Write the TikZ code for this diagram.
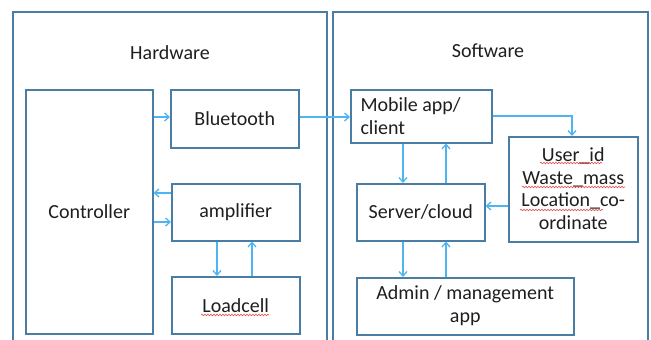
\documentclass[tikz,border=0pt]{standalone}
\usepackage{fontspec}
\setmainfont{Carlito}
\usetikzlibrary{arrows.meta,decorations.pathmorphing}
\definecolor{boxline}{HTML}{4A7DA4}
\definecolor{arrowc}{HTML}{4DB6F2}
\definecolor{txt}{HTML}{1E1E1E}
\definecolor{spell}{HTML}{E05050}
\tikzset{
  every node/.style={font=\fontsize{20}{22.5}\selectfont, text=txt},
  blk/.style={draw=boxline, line width=1.5pt, inner sep=0pt, anchor=north west},
  frame/.style={draw=boxline, line width=1.5pt},
  conn/.style={draw=arrowc, line width=1.3pt, -{Straight Barb[length=4.5pt,width=8pt]}},
  wavy/.style={draw=spell, line width=0.6pt, decorate, decoration={snake, amplitude=0.8pt, segment length=3pt}},
}
\begin{document}
\begin{tikzpicture}[x=1pt,y=-1pt]
\useasboundingbox (0,0) rectangle (651,340);
% frames
\draw[frame] (13,350) -- (13,12) -- (327,12) -- (327,350);
\draw[frame] (333,350) -- (333,12) -- (648,12) -- (648,350);
\node (hw) at (170,53) {Hardware};
\node (sw) at (488,51) {Software};
% hardware blocks
\node[blk, minimum width=127pt, minimum height=244pt] (ctrl) at (25,89) {};
\node at (ctrl.center) {Controller};
\node[blk, minimum width=128pt, minimum height=58pt] (bt) at (170,89) {};
\node at (bt.center) {Bluetooth};
\node[blk, minimum width=128pt, minimum height=57pt] (amp) at (171,183) {};
\node at (amp.center) {amplifier};
\node[blk, minimum width=128pt, minimum height=57pt] (lc) at (171,276) {};
\node at (lc.center) {Loadcell};
% software blocks
\node[blk, minimum width=141pt, minimum height=53pt] (mob) at (350,89) {};
\node[align=left, anchor=west] at (357,116) {Mobile app/\\client};
\node[blk, minimum width=128pt, minimum height=57pt] (srv) at (356,183) {};
\node at (srv.center) {Server/cloud};
\node[blk, minimum width=129pt, minimum height=105pt] (usr) at (508,136) {};
\node[align=center] at ([yshift=0.5pt]usr.center) {User\_id\\Waste\_mass\\Location\_co-\\ordinate};
\node[blk, minimum width=217pt, minimum height=57pt] (adm) at (356,277) {};
\node[align=center] at ([yshift=0.5pt]adm.center) {Admin / management\\app};
% spelling underlines
\draw[wavy] (201,315) -- (269,315);
\draw[wavy] (540,163) -- (602,163);
\draw[wavy] (522,187) -- (625,187);
\draw[wavy] (520,210) -- (603,210);
% connectors
\draw[conn] (ctrl.east |- 0,117) -- (bt.west |- 0,117);
\draw[conn] (amp.west |- 0,193) -- (ctrl.east |- 0,193);
\draw[conn] (ctrl.east |- 0,222) -- (amp.west |- 0,222);
\draw[conn] (amp.south -| 217,0) -- (lc.north -| 217,0);
\draw[conn] (lc.north -| 252,0) -- (amp.south -| 252,0);
\draw[conn] (bt.east |- 0,117) -- (mob.west |- 0,117);
\draw[conn] (mob.south -| 403,0) -- (srv.north -| 403,0);
\draw[conn] (srv.north -| 446,0) -- (mob.south -| 446,0);
\draw[conn] (srv.south -| 403,0) -- (adm.north -| 403,0);
\draw[conn] (adm.north -| 446,0) -- (srv.south -| 446,0);
\draw[conn] (mob.east |- 0,116) -| (usr.north -| 572,0);
\draw[conn] (usr.west |- 0,206) -- (srv.east |- 0,206);
\end{tikzpicture}
\end{document}
